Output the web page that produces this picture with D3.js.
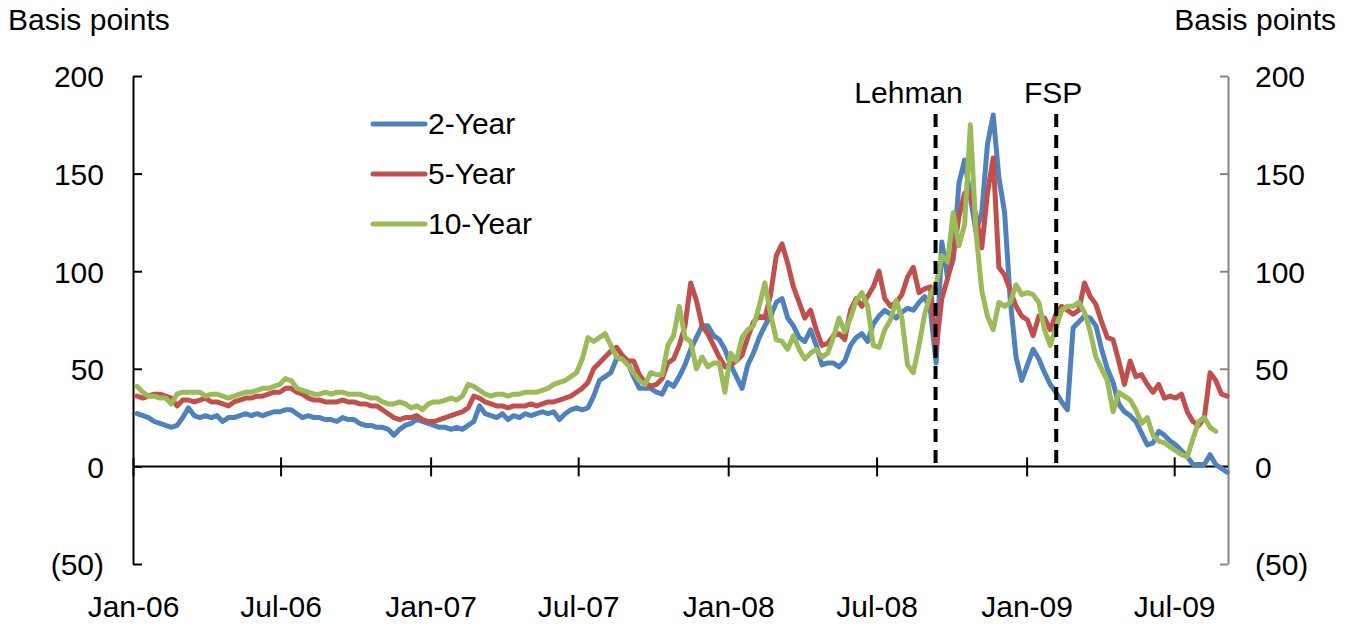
<!DOCTYPE html>
<html>
<head>
<meta charset="utf-8">
<script src="https://cdnjs.cloudflare.com/ajax/libs/d3/7.8.5/d3.min.js"></script>
<style>
  body { margin: 0; background: #fff; }
  text { font-family: "Liberation Sans", Arial, sans-serif; fill: #000; }
</style>
</head>
<body>
<script>
// weekly observations, first one on Fri 6 Jan 2006
var startDate = new Date(2006, 0, 6);

var twoYear = [
  27,26,25,23,22,21,20,21,25,30,
  26,25,26,25,26,23,25,25,26,27,
  26,27,26,27,28,28,29,29,27,25,
  26,25,25,24,24,23,25,24,24,22,
  21,21,20,20,19,16,19,21,22,24,
  23,22,21,20,20,19,20,19,21,23,
  31,27,26,25,27,24,26,25,27,26,
  27,28,27,28,24,27,29,30,29,30,
  36,44,46,48,55,56,53,46,40,40,
  40,38,37,43,41,46,52,60,66,72,
  72,67,65,60,52,46,40,52,58,66,
  72,77,84,86,76,72,66,64,70,62,
  52,53,53,51,54,62,66,68,64,73,
  77,80,78,76,79,81,80,84,87,80,
  53,115,97,106,145,157,138,120,130,165,
  180,148,130,85,56,44,52,60,55,48,
  42,38,33,29,71,74,77,76,72,60,
  50,43,32,28,26,23,17,11,12,18,
  16,13,11,8,5,1,1,1,6,1,
  -1,-3
];

var fiveYear = [
  36,35,36,37,37,36,35,31,34,34,
  33,34,35,33,33,32,31,33,34,35,
  35,36,36,37,38,38,40,40,38,37,
  35,34,34,33,33,33,34,33,33,32,
  32,31,31,29,27,25,24,25,25,26,
  24,23,23,24,25,26,27,28,30,36,
  35,33,32,31,31,30,31,31,31,32,
  31,32,33,33,34,35,36,38,40,43,
  50,53,56,59,61,57,54,54,47,43,
  41,42,45,53,55,62,72,94,85,72,
  68,62,56,51,52,54,57,66,74,77,
  76,88,108,114,104,92,84,76,80,70,
  62,63,67,68,65,80,86,82,87,92,
  100,86,82,84,88,97,102,89,91,92,
  60,86,96,108,128,140,140,128,112,140,
  158,102,98,90,82,77,75,67,77,76,
  70,78,82,80,78,80,94,87,83,74,
  66,65,54,42,54,46,47,42,38,42,
  35,36,35,37,28,23,21,25,48,44,
  37,36
];

var tenYear = [
  41,38,36,36,35,35,32,37,38,38,
  38,38,36,37,37,36,35,36,37,38,
  38,39,40,40,41,42,45,44,40,39,
  38,37,37,38,37,38,38,37,37,37,
  36,35,35,33,32,32,33,32,30,31,
  29,32,33,33,34,35,34,36,42,41,
  39,37,36,37,37,36,37,37,38,38,
  38,39,40,42,43,44,46,48,55,66,
  64,66,68,62,56,55,52,48,44,42,
  48,47,47,62,67,82,66,64,50,56,
  51,53,53,38,58,54,66,70,72,82,
  94,78,65,64,60,67,60,55,58,60,
  56,58,66,76,69,76,85,89,82,62,
  61,70,75,85,76,52,48,62,78,88,
  93,108,105,130,113,124,175,120,90,77,
  70,84,82,84,93,88,89,88,84,70,
  62,71,80,82,82,84,79,69,56,50,
  44,28,38,36,34,29,22,25,16,13,
  12,10,8,6,5,14,23,25,20,18,
  null,null
];

var seriesNames = ["2-Year", "5-Year", "10-Year"];
var seriesColors = ["#4F81BD", "#C0504D", "#9BBB59"];
var yTicks = [200, 150, 100, 50, 0, -50];
var eventNames = ["Lehman", "FSP"];
var eventDates = [new Date(2008, 8, 15), new Date(2009, 1, 10)];

var width = 1353, height = 626;
var plotLeft = 133, plotRight = 1228, plotTop = 76, plotBottom = 564;
var fontSize = "30px";

var dates = twoYear.map(function(d, i) { return d3.timeDay.offset(startDate, 7 * i); });
var series = [twoYear, fiveYear, tenYear];

var x = d3.scaleTime()
    .domain([new Date(2006, 0, 1), new Date(2009, 8, 5)])
    .range([plotLeft, plotRight]);
var y = d3.scaleLinear().domain([-50, 200]).range([plotBottom, plotTop]);

var svg = d3.select("body").append("svg")
    .attr("width", width)
    .attr("height", height);

var fmtY = function(d) { return d < 0 ? "(" + Math.abs(d) + ")" : d; };

// left axis
var gl = svg.append("g")
    .attr("transform", "translate(" + plotLeft + ",0)")
    .call(d3.axisLeft(y).tickValues(yTicks).tickSize(-9).tickPadding(29).tickSizeOuter(0).tickFormat(fmtY));
gl.select(".domain").attr("stroke", "#000").attr("stroke-width", 2);
gl.selectAll(".tick line").attr("stroke", "#000").attr("stroke-width", 2);
gl.selectAll("text").style("font-size", fontSize).attr("dy", "0.36em");

// right axis (grey)
var gr = svg.append("g")
    .attr("transform", "translate(" + plotRight + ",0)")
    .call(d3.axisRight(y).tickValues(yTicks).tickSize(-8).tickPadding(27).tickSizeOuter(0).tickFormat(fmtY));
gr.select(".domain").attr("stroke", "#868686").attr("stroke-width", 2);
gr.selectAll(".tick line").attr("stroke", "#868686").attr("stroke-width", 2);
gr.selectAll("text").style("font-size", fontSize).attr("dy", "0.36em");

// zero line with date ticks
var y0 = y(0);
svg.append("line")
    .attr("x1", plotLeft).attr("x2", plotRight)
    .attr("y1", y0).attr("y2", y0)
    .attr("stroke", "#000").attr("stroke-width", 2);

var xTicks = d3.timeMonth.every(6).range(new Date(2006, 0, 1), new Date(2009, 7, 1));
var gx = svg.append("g")
    .attr("transform", "translate(0," + (y0 - 9) + ")")
    .call(d3.axisBottom(x).tickValues(xTicks).tickSize(19).tickFormat(d3.timeFormat("%b-%y")));
gx.select(".domain").remove();
gx.selectAll(".tick line").attr("stroke", "#000").attr("stroke-width", 2);
gx.selectAll("text")
    .style("font-size", fontSize)
    .attr("y", 617 - (y0 - 9))
    .attr("dy", null);

// series
var line = d3.line()
    .defined(function(d) { return d[1] != null; })
    .x(function(d) { return x(d[0]); })
    .y(function(d) { return y(d[1]); });

series.forEach(function(vals, k) {
    svg.append("path")
        .datum(vals.map(function(v, i) { return [dates[i], v]; }))
        .attr("fill", "none")
        .attr("stroke", seriesColors[k])
        .attr("stroke-width", 5)
        .attr("stroke-linejoin", "round")
        .attr("stroke-linecap", "round")
        .attr("d", line);
});

// event markers
eventDates.forEach(function(d, i) {
    svg.append("line")
        .attr("x1", x(d) - 3).attr("x2", x(d) - 3)
        .attr("y1", 114).attr("y2", y0)
        .attr("stroke", "#000")
        .attr("stroke-width", 4)
        .attr("stroke-dasharray", "13,8");
    svg.append("text")
        .attr("x", x(d) - (i === 0 ? 30 : 6))
        .attr("y", 103)
        .attr("text-anchor", "middle")
        .style("font-size", fontSize)
        .text(eventNames[i]);
});

// legend
seriesNames.forEach(function(name, k) {
    var ly = 124 + k * 50;
    svg.append("line")
        .attr("x1", 373).attr("x2", 425)
        .attr("y1", ly).attr("y2", ly)
        .attr("stroke", seriesColors[k])
        .attr("stroke-width", 5)
        .attr("stroke-linecap", "round");
    svg.append("text")
        .attr("x", 428)
        .attr("y", ly + 10)
        .style("font-size", fontSize)
        .text(name);
});

// unit labels
svg.append("text").attr("x", 8).attr("y", 30).style("font-size", fontSize).text("Basis points");
svg.append("text").attr("x", 1336).attr("y", 30).attr("text-anchor", "end").style("font-size", fontSize).text("Basis points");
</script>
</body>
</html>
